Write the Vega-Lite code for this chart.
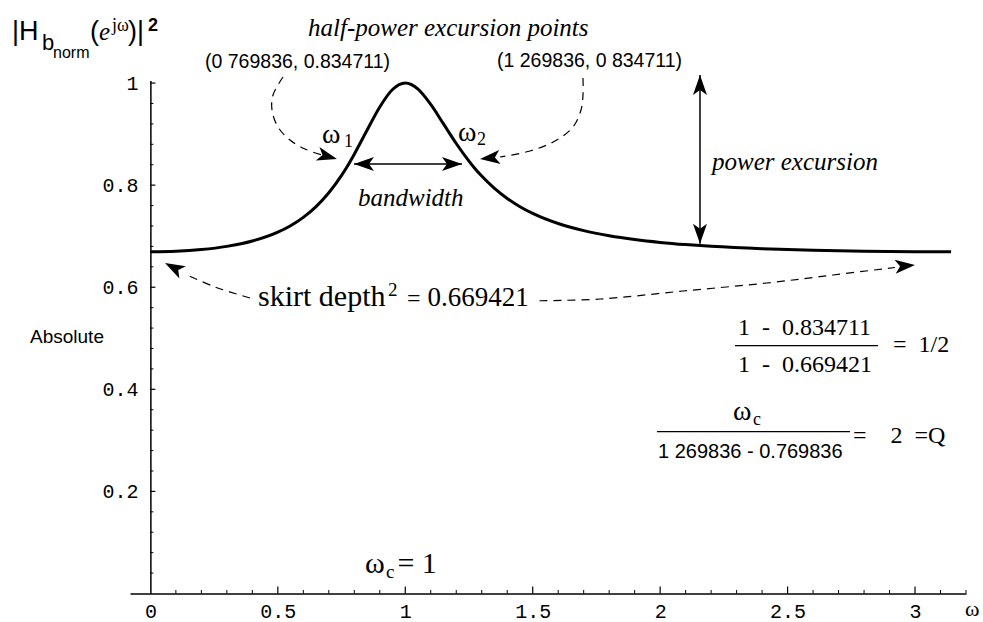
{
"$schema":"https://vega.github.io/schema/vega-lite/v6.json",
"width":836,"height":513,
"autosize":{"type":"none"},
"padding":{"left":130,"top":80.5,"right":17,"bottom":28.5},
"background":"white",
"config":{"view":{"stroke":null},"text":{"color":"black"}},
"encoding":{
 "x":{"field":"x","type":"quantitative","scale":{"domain":[-0.08,3.2],"nice":false,"zero":false},
  "axis":{"orient":"bottom","values":[0,0.5,1,1.5,2,2.5,3],"format":"~g","title":null,"grid":false,"domain":true,"domainColor":"black","domainWidth":1.5,"ticks":false,"tickSize":0,"labelFont":"Liberation Mono","labelFontSize":20,"labelColor":"black","labelPadding":7.5,"labelOverlap":false,"labelBound":false,"labelFlush":false}},
 "y":{"field":"y","type":"quantitative","scale":{"domain":[0,1.005],"nice":false,"zero":false},
  "axis":{"orient":"left","offset":-20.39,"values":[0.2,0.4,0.6,0.8,1],"format":"~g","title":null,"grid":false,"domain":true,"domainColor":"black","domainWidth":1.5,"ticks":false,"tickSize":0,"labelFont":"Liberation Mono","labelFontSize":20,"labelColor":"black","labelPadding":12.4,"labelAlign":"right","labelBaseline":"middle","labelOverlap":false,"labelBound":false,"labelFlush":false}}
},
"layer":[
{"data":{"values":[
{"x":0,"y":0.669421},{"x":0.1,"y":0.670459},{"x":0.2,"y":0.673768},{"x":0.3,"y":0.680011},{"x":0.4,"y":0.690552},{"x":0.5,"y":0.707944},{"x":0.55,"y":0.720548},{"x":0.6,"y":0.736838},{"x":0.65,"y":0.757897},{"x":0.7,"y":0.784968},{"x":0.75,"y":0.819164},{"x":0.769836,"y":0.834711},{"x":0.8,"y":0.860705},{"x":0.85,"y":0.907459},{"x":0.9,"y":0.953169},{"x":0.95,"y":0.987396},{"x":1,"y":1},{"x":1.05,"y":0.988151},{"x":1.1,"y":0.958137},{"x":1.15,"y":0.91996},{"x":1.2,"y":0.881553},{"x":1.25,"y":0.847058},{"x":1.269836,"y":0.834711},{"x":1.3,"y":0.817804},{"x":1.35,"y":0.793652},{"x":1.4,"y":0.773922},{"x":1.45,"y":0.757825},{"x":1.5,"y":0.744645},{"x":1.6,"y":0.724771},{"x":1.7,"y":0.710873},{"x":1.8,"y":0.70086},{"x":1.9,"y":0.693449},{"x":2,"y":0.687839},{"x":2.1,"y":0.683514},{"x":2.2,"y":0.680133},{"x":2.4,"y":0.675344},{"x":2.6,"y":0.672333},{"x":2.8,"y":0.670519},{"x":3,"y":0.669604},{"x":3.14159,"y":0.669421}]},
 "mark":{"type":"line","color":"black","strokeWidth":3,"interpolate":"monotone"}},
{"data":{"values":[{"x":0.5,"y":0,"y2":0.0137},{"x":1,"y":0,"y2":0.0137},{"x":1.5,"y":0,"y2":0.0137},{"x":2,"y":0,"y2":0.0137},{"x":2.5,"y":0,"y2":0.0137},{"x":3,"y":0,"y2":0.0137}]},
 "mark":{"type":"rule","color":"black","strokeWidth":1.2},
 "encoding":{"y2":{"field":"y2"}}},
{"data":{"values":[{"x":0.1,"y":0,"y2":0.0069},{"x":0.2,"y":0,"y2":0.0069},{"x":0.3,"y":0,"y2":0.0069},{"x":0.4,"y":0,"y2":0.0069},{"x":0.6,"y":0,"y2":0.0069},{"x":0.7,"y":0,"y2":0.0069},{"x":0.8,"y":0,"y2":0.0069},{"x":0.9,"y":0,"y2":0.0069},{"x":1.1,"y":0,"y2":0.0069},{"x":1.2,"y":0,"y2":0.0069},{"x":1.3,"y":0,"y2":0.0069},{"x":1.4,"y":0,"y2":0.0069},{"x":1.6,"y":0,"y2":0.0069},{"x":1.7,"y":0,"y2":0.0069},{"x":1.8,"y":0,"y2":0.0069},{"x":1.9,"y":0,"y2":0.0069},{"x":2.1,"y":0,"y2":0.0069},{"x":2.2,"y":0,"y2":0.0069},{"x":2.3,"y":0,"y2":0.0069},{"x":2.4,"y":0,"y2":0.0069},{"x":2.6,"y":0,"y2":0.0069},{"x":2.7,"y":0,"y2":0.0069},{"x":2.8,"y":0,"y2":0.0069},{"x":2.9,"y":0,"y2":0.0069},{"x":3.1,"y":0,"y2":0.0069},{"x":3.2,"y":0,"y2":0.0069}]},
 "mark":{"type":"rule","color":"black","strokeWidth":1},
 "encoding":{"y2":{"field":"y2"}}},
{"data":{"values":[{"x":0,"x2":0.0196,"y":0.2},{"x":0,"x2":0.0196,"y":0.4},{"x":0,"x2":0.0196,"y":0.6},{"x":0,"x2":0.0196,"y":0.8},{"x":0,"x2":0.0196,"y":1}]},
 "mark":{"type":"rule","color":"black","strokeWidth":1.2},
 "encoding":{"x2":{"field":"x2"}}},
{"data":{"values":[{"x":0,"x2":0.0118,"y":0.04},{"x":0,"x2":0.0118,"y":0.08},{"x":0,"x2":0.0118,"y":0.12},{"x":0,"x2":0.0118,"y":0.16},{"x":0,"x2":0.0118,"y":0.24},{"x":0,"x2":0.0118,"y":0.28},{"x":0,"x2":0.0118,"y":0.32},{"x":0,"x2":0.0118,"y":0.36},{"x":0,"x2":0.0118,"y":0.44},{"x":0,"x2":0.0118,"y":0.48},{"x":0,"x2":0.0118,"y":0.52},{"x":0,"x2":0.0118,"y":0.56},{"x":0,"x2":0.0118,"y":0.64},{"x":0,"x2":0.0118,"y":0.68},{"x":0,"x2":0.0118,"y":0.72},{"x":0,"x2":0.0118,"y":0.76},{"x":0,"x2":0.0118,"y":0.84},{"x":0,"x2":0.0118,"y":0.88},{"x":0,"x2":0.0118,"y":0.92},{"x":0,"x2":0.0118,"y":0.96}]},
 "mark":{"type":"rule","color":"black","strokeWidth":1},
 "encoding":{"x2":{"field":"x2"}}},
{"data":{"values":[
{"g":"a","o":1,"x":0.5203,"y":1.0119},{"g":"a","o":2,"x":0.481,"y":0.9766},{"g":"a","o":3,"x":0.4771,"y":0.9472},{"g":"a","o":4,"x":0.5006,"y":0.9139},{"g":"a","o":5,"x":0.5477,"y":0.8884},{"g":"a","o":6,"x":0.6066,"y":0.8708},{"g":"a","o":7,"x":0.6733,"y":0.859},
{"g":"b","o":1,"x":1.6973,"y":1.0099},{"g":"b","o":2,"x":1.6973,"y":0.9766},{"g":"b","o":3,"x":1.6895,"y":0.9472},{"g":"b","o":4,"x":1.6581,"y":0.9139},{"g":"b","o":5,"x":1.5874,"y":0.8865},{"g":"b","o":6,"x":1.4893,"y":0.8669},{"g":"b","o":7,"x":1.3716,"y":0.8551},
{"g":"c","o":1,"x":0.3908,"y":0.5789},{"g":"c","o":2,"x":0.2535,"y":0.6005},{"g":"c","o":3,"x":0.1358,"y":0.6259},
{"g":"d","o":1,"x":1.5266,"y":0.5735},{"g":"d","o":2,"x":1.7645,"y":0.5769},{"g":"d","o":3,"x":2.0901,"y":0.5926},{"g":"d","o":4,"x":2.4197,"y":0.6083},{"g":"d","o":5,"x":2.6787,"y":0.624},{"g":"d","o":6,"x":2.9214,"y":0.6387}]},
 "mark":{"type":"line","color":"black","strokeWidth":1.2,"strokeDash":[8,6],"interpolate":"catmull-rom"},
 "encoding":{"detail":{"field":"g"},"order":{"field":"o","type":"quantitative"}}},
{"data":{"values":[
{"g":"pe","x":2.1563,"y":1.0158},{"g":"pe","x":2.1563,"y":0.685},
{"g":"bw","x":0.7988,"y":0.8414},{"g":"bw","x":1.2225,"y":0.8414}]},
 "mark":{"type":"line","color":"black","strokeWidth":1.5},
 "encoding":{"detail":{"field":"g"}}},
{"data":{"values":[
{"x":0.7321,"y":0.8512,"dir":105},{"x":1.2932,"y":0.8512,"dir":264},{"x":0.0573,"y":0.6475,"dir":298},{"x":2.9999,"y":0.6436,"dir":85},
{"x":2.1563,"y":1.0158,"dir":0},{"x":2.1563,"y":0.685,"dir":180},{"x":0.7988,"y":0.8414,"dir":270},{"x":1.2225,"y":0.8414,"dir":90}]},
 "mark":{"type":"point","shape":"M0,0L0.7,2L0,1.5L-0.7,2Z","filled":true,"color":"black","opacity":1,"size":400,"strokeWidth":0},
 "encoding":{"angle":{"field":"dir","type":"quantitative","scale":null}}},
{"data":{"values":[{"x":2.2936,"x2":2.8546,"y":0.4855},{"x":1.9876,"x2":2.7449,"y":0.317}]},
 "mark":{"type":"rule","color":"black","strokeWidth":1.2},
 "encoding":{"x2":{"field":"x2"}}},
{"data":{"values":[{"t":"|H","x":-0.543,"y":1.0843},{"t":"(","x":-0.2369,"y":1.0843},{"t":")|","x":-0.0878,"y":1.0843}]},
 "mark":{"type":"text","font":"Liberation Sans","fontSize":27,"align":"left","baseline":"alphabetic"},
 "encoding":{"text":{"field":"t"}}},
{"data":{"values":[{"t":"b","x":-0.4253,"y":1.0647}]},
 "mark":{"type":"text","font":"Liberation Sans","fontSize":22,"align":"left","baseline":"alphabetic"},
 "encoding":{"text":{"field":"t"}}},
{"data":{"values":[{"t":"norm","x":-0.3821,"y":1.0491}]},
 "mark":{"type":"text","font":"Liberation Sans","fontSize":16,"align":"left","baseline":"alphabetic"},
 "encoding":{"text":{"field":"t"}}},
{"data":{"values":[{"t":"e","x":-0.2016,"y":1.0843}]},
 "mark":{"type":"text","font":"Liberation Serif","fontStyle":"italic","fontSize":25,"align":"left","baseline":"alphabetic"},
 "encoding":{"text":{"field":"t"}}},
{"data":{"values":[{"t":"jω","x":-0.1506,"y":1.102}]},
 "mark":{"type":"text","font":"Liberation Serif","fontSize":18,"align":"left","baseline":"alphabetic"},
 "encoding":{"text":{"field":"t"}}},
{"data":{"values":[{"t":"2","x":-0.0094,"y":1.102}]},
 "mark":{"type":"text","font":"Liberation Sans","fontWeight":"bold","fontSize":18,"align":"left","baseline":"alphabetic"},
 "encoding":{"text":{"field":"t"}}},
{"data":{"values":[{"t":"Absolute","x":-0.4723,"y":0.4907}]},
 "mark":{"type":"text","font":"Liberation Sans","fontSize":19,"align":"left","baseline":"alphabetic"},
 "encoding":{"text":{"field":"t"}}},
{"data":{"values":[{"t":"(0 769836, 0.834711)","x":0.2143,"y":1.0295},{"t":"(1 269836, 0 834711)","x":1.3599,"y":1.0314}]},
 "mark":{"type":"text","font":"Liberation Sans","fontSize":19.5,"align":"left","baseline":"alphabetic"},
 "encoding":{"text":{"field":"t"}}},
{"data":{"values":[{"t":"half-power excursion points","x":0.6184,"y":1.0922},{"t":"bandwidth","x":0.8145,"y":0.7591},{"t":"power excursion","x":2.2034,"y":0.8297}]},
 "mark":{"type":"text","font":"Liberation Serif","fontStyle":"italic","fontSize":25,"align":"left","baseline":"alphabetic"},
 "encoding":{"text":{"field":"t"}}},
{"data":{"values":[{"t":"ω","x":0.6733,"y":0.8826},{"t":"ω","x":1.2069,"y":0.8865},{"t":"ω","x":2.2858,"y":0.3399}]},
 "mark":{"type":"text","font":"Liberation Serif","fontSize":28,"align":"left","baseline":"alphabetic"},
 "encoding":{"text":{"field":"t"}}},
{"data":{"values":[{"t":"1","x":0.7596,"y":0.8747},{"t":"2","x":1.2815,"y":0.8786},{"t":"c","x":2.3643,"y":0.3301}]},
 "mark":{"type":"text","font":"Liberation Serif","fontSize":18,"align":"left","baseline":"alphabetic"},
 "encoding":{"text":{"field":"t"}}},
{"data":{"values":[{"t":"1\u00a0\u00a0-\u00a0\u00a00.834711","x":2.3054,"y":0.5064},{"t":"1\u00a0\u00a0-\u00a0\u00a00.669421","x":2.3054,"y":0.4339},{"t":"=\u00a0\u00a01/2","x":2.9135,"y":0.4731},{"t":"=\u00a0\u00a0\u00a0\u00a02\u00a0\u00a0=Q","x":2.7566,"y":0.2948},{"t":"=","x":1.0068,"y":0.5632}]},
 "mark":{"type":"text","font":"Liberation Serif","fontSize":24,"align":"left","baseline":"alphabetic"},
 "encoding":{"text":{"field":"t"}}},
{"data":{"values":[{"t":"1 269836 - 0.769836","x":1.9916,"y":0.2655}]},
 "mark":{"type":"text","font":"Liberation Sans","fontSize":20,"align":"left","baseline":"alphabetic"},
 "encoding":{"text":{"field":"t"}}},
{"data":{"values":[{"t":"skirt depth","x":0.4222,"y":0.5632},{"t":"ω","x":0.842,"y":0.0402},{"t":"=\u00a01","x":0.9693,"y":0.0402}]},
 "mark":{"type":"text","font":"Liberation Serif","fontSize":30,"align":"left","baseline":"alphabetic"},
 "encoding":{"text":{"field":"t"}}},
{"data":{"values":[{"t":"0.669421","x":1.0873,"y":0.5632}]},
 "mark":{"type":"text","font":"Liberation Serif","fontSize":27,"align":"left","baseline":"alphabetic"},
 "encoding":{"text":{"field":"t"}}},
{"data":{"values":[{"t":"2","x":0.9323,"y":0.5828},{"t":"c","x":0.9244,"y":0.0304}]},
 "mark":{"type":"text","font":"Liberation Serif","fontSize":19,"align":"left","baseline":"alphabetic"},
 "encoding":{"text":{"field":"t"}}},
{"data":{"values":[{"t":"ω","x":3.196,"y":-0.0441}]},
 "mark":{"type":"text","font":"Liberation Serif","fontSize":22,"align":"left","baseline":"alphabetic"},
 "encoding":{"text":{"field":"t"}}}
]
}
